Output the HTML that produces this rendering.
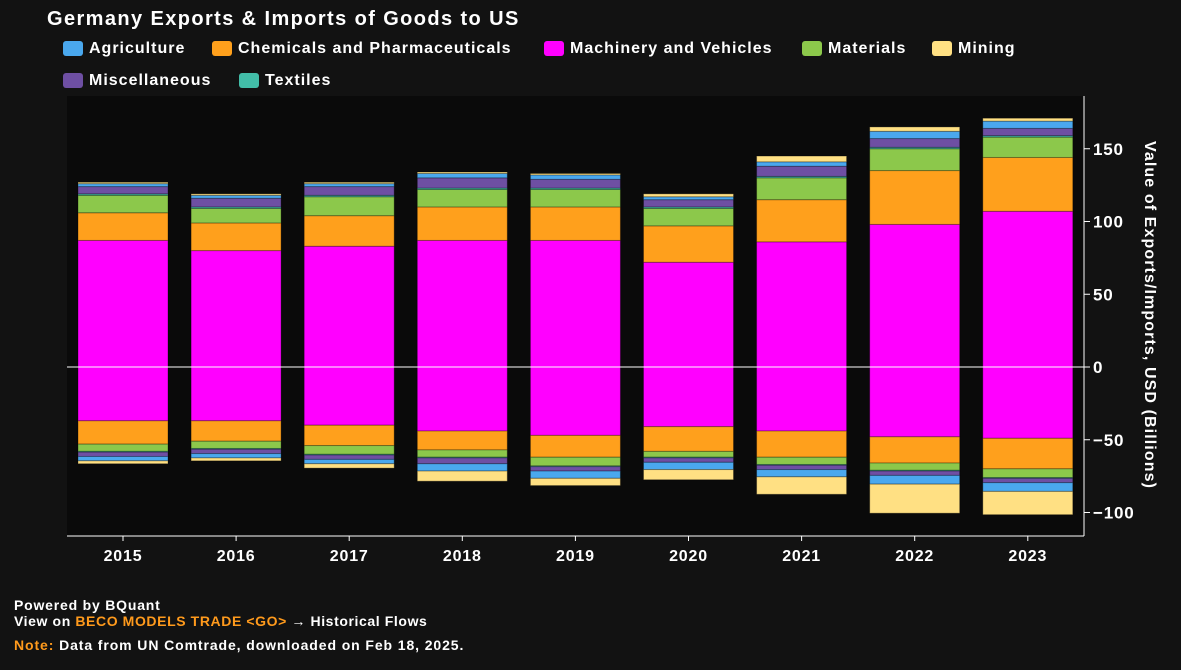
<!DOCTYPE html>
<html><head><meta charset="utf-8"><style>
body{margin:0;background:#121212;width:1181px;height:665px;overflow:hidden;font-family:"Liberation Sans",Arial,sans-serif;}
svg text{font-family:"Liberation Sans",Arial,sans-serif;font-weight:bold;fill:#fff;}
</style></head><body>
<svg id="chart" width="1181" height="665">
<rect x="0" y="0" width="1181" height="665" fill="#121212"/>
<text x="47" y="25" font-size="20" letter-spacing="1.4">Germany Exports &amp; Imports of Goods to US</text>
<g id="legend"></g>
<rect x="67" y="96" width="1017" height="440" fill="#0a0a0a"/>
<g id="bars"></g>
<g id="axes"></g>
<text transform="translate(1145,315) rotate(90)" text-anchor="middle" font-size="16" letter-spacing="1.1">Value of Exports/Imports, USD (Billions)</text>
<text x="14" y="610" font-size="14" letter-spacing="0.8">Powered by BQuant</text>
<text x="14" y="626" font-size="14" letter-spacing="0.6">View on <tspan fill="#ff9a1c">BECO MODELS TRADE &lt;GO&gt;</tspan> → Historical Flows</text>
<text x="14" y="650" font-size="14" letter-spacing="0.9"><tspan fill="#ff9a1c">Note:</tspan> Data from UN Comtrade, downloaded on Feb 18, 2025.</text>
</svg>
<script>
const years=['2015','2016','2017','2018','2019','2020','2021','2022','2023'];
const categories=['Agriculture','Chemicals and Pharmaceuticals','Machinery and Vehicles','Materials','Mining','Miscellaneous','Textiles'];
const colors={'Agriculture':'#4aa8ee','Chemicals and Pharmaceuticals':'#ffa01c','Machinery and Vehicles':'#ff00ff','Materials':'#8cc84b','Mining':'#ffe083','Miscellaneous':'#6e4fa3','Textiles':'#42bda8'};
const stackOrder=['Machinery and Vehicles','Chemicals and Pharmaceuticals','Materials','Textiles','Miscellaneous','Agriculture','Mining'];
const expMachinery=[87,80,83,87,87,72,86,98,107];
const expChemicals=[19,19,21,23,23,25,29,37,37];
const expMaterials=[12,10,13,12,12,12,15,15,14];
const expTextiles=[1,1,1,1,1,1,1,1,1];
const expMisc=[5,6,6,7,6,5,7,6,5];
const expAgri=[2,2,2,3,3,2,3,5,5];
const expMining=[1,1,1,1,1,2,4,3,2];
const impMachinery=[37,37,40,44,47,41,44,48,49];
const impChemicals=[16,14,14,13,15,17,18,18,21];
const impMaterials=[5,5,6,5,6,4,5,5,6];
const impTextiles=[0.5,0.5,0.5,0.5,0.5,0.5,0.5,0.5,0.5];
const impMisc=[3,3,3,4,3,3,3,3,3];
const impAgri=[3,3,3,5,5,5,5,6,6];
const impMining=[2,2,3,7,5,7,12,20,16];
const yTicks=[-100,-50,0,50,100,150];
const exp={'Machinery and Vehicles':expMachinery,'Chemicals and Pharmaceuticals':expChemicals,'Materials':expMaterials,'Textiles':expTextiles,'Miscellaneous':expMisc,'Agriculture':expAgri,'Mining':expMining};
const imp={'Machinery and Vehicles':impMachinery,'Chemicals and Pharmaceuticals':impChemicals,'Materials':impMaterials,'Textiles':impTextiles,'Miscellaneous':impMisc,'Agriculture':impAgri,'Mining':impMining};
const NS='http://www.w3.org/2000/svg';
const y=v=>367-v*1.455;
const xC=i=>123+i*113.1;
const bw=90;
function mk(tag,attrs,parent){const e=document.createElementNS(NS,tag);for(const k in attrs)e.setAttribute(k,attrs[k]);parent.appendChild(e);return e;}
const bars=document.getElementById('bars');
years.forEach((yr,i)=>{
  let pos=0,neg=0;
  stackOrder.forEach(c=>{
    const v=exp[c][i];
    const r=mk('rect',{x:xC(i)-bw/2,y:y(pos+v),width:bw,height:v*1.455,fill:colors[c],stroke:'rgba(0,0,0,0.3)','stroke-width':1},bars);
    
    
    pos+=v;
    const w=imp[c][i];
    const r2=mk('rect',{x:xC(i)-bw/2,y:y(-neg),width:bw,height:w*1.455,fill:colors[c],stroke:'rgba(0,0,0,0.3)','stroke-width':1},bars);
    
    
    neg+=w;
  });
  const t=mk('text',{x:xC(i),y:561,'text-anchor':'middle','font-size':16,'letter-spacing':0.8},document.getElementById('axes'));
  t.textContent=yr;
  
  
});
const axes=document.getElementById('axes');
const zl=mk('line',{x1:67,x2:1084,y1:y(0),y2:y(0),stroke:'#fff','stroke-width':1},axes);


const xa=mk('line',{x1:67,x2:1084,y1:536,y2:536,stroke:'#fff','stroke-width':1},axes);


const ya=mk('line',{x1:1084,x2:1084,y1:96,y2:536,stroke:'#fff','stroke-width':1},axes);


years.forEach((yr,i)=>{mk('line',{x1:xC(i),x2:xC(i),y1:536,y2:541,stroke:'#fff'},axes);});
yTicks.forEach(v=>{
  mk('line',{x1:1084,x2:1090,y1:y(v),y2:y(v),stroke:'#fff'},axes);
  const t=mk('text',{x:1093,y:y(v)+6,'font-size':17,'letter-spacing':0.8},axes);
  t.textContent=v<0?'\u2212'+Math.abs(v):String(v);
  
  
});
const leg=document.getElementById('legend');
const legPos=[[63,40],[212,40],[544,40],[802,40],[932,40],[63,72],[239,72]];
categories.forEach((c,i)=>{
  const [lx,ly]=legPos[i];
  const g=mk('g',{},leg);
  
  
  mk('rect',{x:lx,y:ly+1,width:20,height:15,rx:3,fill:colors[c]},g);
  const t=mk('text',{x:lx+26,y:ly+13,'font-size':16,'letter-spacing':1},g);
  t.textContent=c;
});
</script>
</body></html>
